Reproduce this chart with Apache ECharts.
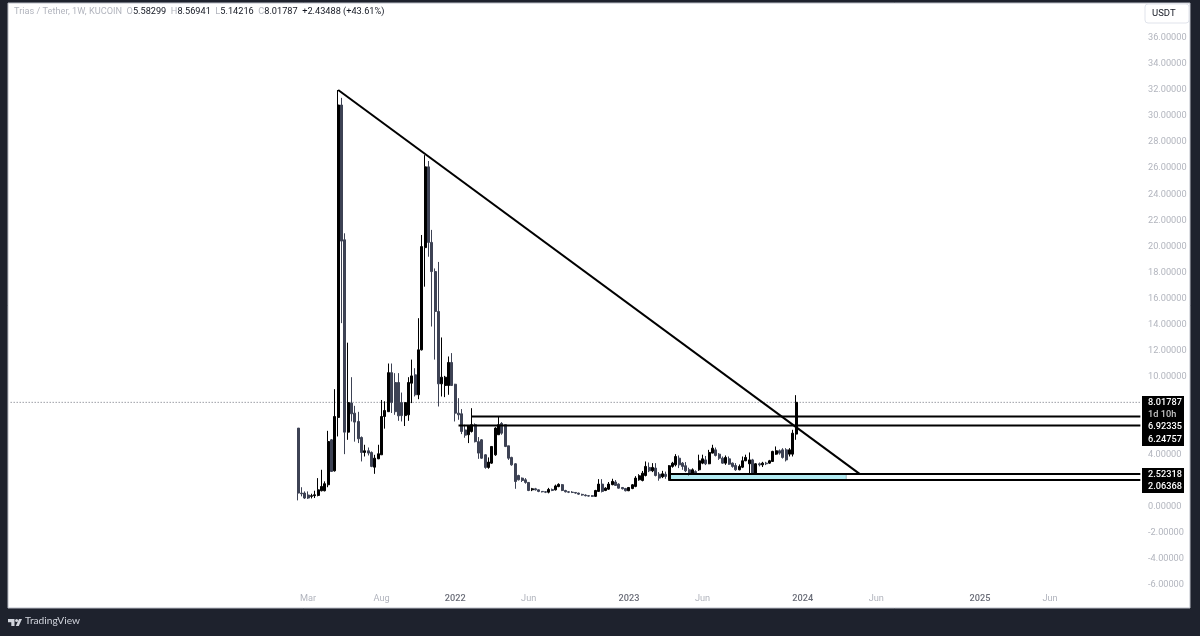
<!DOCTYPE html>
<html lang="en">
<head>
    <meta charset="UTF-8">
    <title>Trias / Tether, 1W, KUCOIN</title>
    <style>
        html, body { margin: 0; padding: 0; background: #1e222d; }
        #main { width: 1200px; height: 636px; }
    </style>
</head>
<body>
    <div id="main"></div>
    <script src="https://cdn.jsdelivr.net/npm/echarts@6/dist/echarts.min.js"></script>
    <script>
        // weekly candles, first one is the week of 2021-02-08
        const candleOpen = [
            6.04, 1.05, 1.05, 0.9, 0.8, 0.85, 0.87, 1.23, 1.23, 1.69,
            5.14, 2.76, 6.86, 30.85, 20.5, 5.73, 7.96, 7.19, 6.55, 5.32,
            4.17, 4.3, 4.17, 3.04, 3.68, 3.99, 6.93, 7.3, 10.3, 9.54,
            9.54, 8, 7, 7.06, 9.49, 10.13, 8.6, 12.05, 19.9, 26.1,
            20.3, 18.06, 15, 9.44, 9.31, 9.31, 11.08, 9.41, 7.19, 7.14,
            5.9, 5.53, 5.78, 6.3, 5, 5.14, 3.99, 3.02, 3.35, 3.99,
            5.53, 6.4, 6.3, 4.68, 3.79, 3.3, 2.4, 2.2, 2.07, 1.87,
            1.3, 1.38, 1.3, 1.18, 1.15, 1.12, 1.33, 1.3, 1.55, 1.7,
            1.25, 1.15, 1.12, 1.1, 1.05, 0.95, 0.9, 0.85, 0.85, 0.8,
            1.18, 1.74, 1.25, 1.35, 1.7, 1.9, 1.74, 1.48, 1.4, 1.23,
            1.4, 1.56, 2.07, 2.02, 2.4, 3.02, 2.76, 2.97, 2.5, 2.3,
            2.5, 2.07, 3.1, 3.22, 3.73, 3.35, 3.15, 2.84, 2.58, 2.7,
            2.84, 3.35, 3.6, 3.3, 4.12, 4.37, 4.04, 3.73, 3.35, 3.68,
            3.35, 3.17, 2.84, 3.04, 3.53, 3.3, 3.6, 2.58, 3.3, 3.22,
            3.35, 3.35, 3.48, 4.04, 4.3, 4.37, 4.37, 4.04, 4.04, 5.58
        ];
        const candleClose = [
            1.05, 1.0, 0.67, 0.67, 0.85, 0.92, 1.3, 1.56, 1.77, 5.01,
            2.71, 6.93, 30.85, 20.4, 5.73, 8.0, 7.14, 6.5, 5.22, 4.17,
            4.3, 4.12, 3.1, 3.73, 4.07, 6.93, 7.39, 10.3, 8.0, 7.3,
            6.98, 7, 8, 9.54, 10.05, 8.6, 12.05, 19.98, 26.1, 20.3,
            18.06, 15, 9.44, 9.95, 9.95, 11.08, 9.31, 7.19, 7.06, 5.78,
            5.5, 6.24, 6.3, 5.0, 4.12, 3.73, 3.02, 3.43, 4.63, 6.04,
            6.3, 5.65, 4.63, 3.73, 3.22, 1.94, 2.07, 2.02, 1.87, 1.25,
            1.38, 1.3, 1.18, 1.15, 1.12, 1.33, 1.25, 1.6, 1.72, 1.25,
            1.15, 1.12, 1.1, 1.05, 0.97, 0.9, 0.85, 0.82, 0.8, 1.25,
            1.74, 1.18, 1.43, 1.74, 1.95, 1.64, 1.43, 1.38, 1.23, 1.48,
            1.69, 2.2, 2.38, 2.58, 3.1, 2.76, 3.02, 2.4, 2.2, 2.53,
            2.33, 3.15, 3.35, 3.86, 3.22, 3.1, 2.76, 2.58, 2.84, 2.6,
            3.53, 3.68, 3.3, 4.17, 4.5, 3.94, 3.73, 3.35, 3.79, 3.27,
            3.1, 2.84, 3.1, 3.53, 3.79, 3.6, 2.58, 3.3, 3.22, 3.35,
            3.3, 3.53, 4.25, 4.3, 4.12, 3.79, 3.6, 4.37, 5.65, 8.01787
        ];
        const candleLow = [
            0.49, 0.8, 0.6, 0.6, 0.64, 0.67, 0.8, 1.18, 1.18, 1.5,
            2.7, 2.7, 5.4, 14.1, 4.04, 5.14, 6.55, 5.0, 4.89, 3.48,
            3.86, 3.94, 3.04, 2.53, 3.66, 3.99, 6.0, 7.3, 7.2, 7.06,
            6.6, 6.55, 6.2, 6.6, 7.96, 8.47, 8.26, 12.0, 16.9, 19.2,
            13.84, 11.3, 7.7, 8.47, 8.42, 8.6, 9.29, 6.55, 6.68, 5.58,
            5.3, 4.89, 5.7, 4.94, 3.68, 3.68, 2.92, 2.92, 3.3, 3.91,
            5.53, 5.53, 4.58, 3.6, 3.15, 1.38, 2.02, 1.9, 1.77, 1.2,
            1.2, 1.25, 1.12, 1.1, 1.05, 1.03, 1.2, 1.25, 1.5, 1.2,
            1.1, 1.05, 1.05, 1.0, 0.92, 0.85, 0.8, 0.78, 0.75, 0.75,
            1.15, 1.1, 1.2, 1.3, 1.65, 1.6, 1.4, 1.33, 1.18, 1.2,
            1.35, 1.5, 2.0, 1.95, 2.33, 2.66, 2.66, 2.33, 2.0, 2.2,
            2.15, 2.0, 3.0, 3.1, 2.97, 2.84, 2.66, 2.4, 2.5, 2.5,
            2.76, 3.27, 3.2, 3.27, 4.1, 3.86, 3.6, 3.3, 3.22, 3.22,
            3.0, 2.76, 2.8, 2.97, 3.5, 2.58, 2.55, 2.55, 3.1, 3.05,
            3.2, 3.3, 3.45, 3.99, 4.0, 3.7, 3.48, 3.86, 3.86, 5.14216
        ];
        const candleHigh = [
            6.04, 1.5, 1.18, 1.18, 1.0, 1.23, 2.2, 2.84, 1.95, 5.83,
            5.2, 9.03, 32, 31.4, 21, 12.6, 9.95, 7.75, 7.29, 5.4,
            4.76, 4.55, 4.25, 3.99, 4.76, 8.2, 8.1, 11, 11, 10.26,
            10.26, 8.77, 8, 9.95, 11.3, 10.64, 14.48, 20.87, 27, 26.55,
            21.26, 18.3, 18.8, 13, 10.05, 11.54, 11.8, 9.44, 8.34, 7.5,
            6.3, 6.24, 7.57, 6.4, 5.35, 5.2, 4.04, 3.79, 4.63, 6.11,
            6.93, 6.5, 6.3, 4.68, 3.84, 3.35, 2.46, 2.25, 2.2, 1.9,
            1.45, 1.45, 1.33, 1.2, 1.2, 1.45, 1.4, 1.7, 1.8, 1.75,
            1.3, 1.2, 1.2, 1.12, 1.08, 1.0, 0.95, 0.9, 0.9, 1.3,
            2.12, 2.12, 1.5, 1.9, 2.15, 2.05, 1.8, 1.52, 1.45, 1.52,
            1.75, 2.35, 2.5, 2.75, 3.48, 3.4, 3.35, 3.35, 2.66, 2.76,
            2.7, 3.2, 3.45, 4.04, 3.94, 3.43, 3.43, 3.0, 2.95, 2.8,
            4.0, 4.0, 3.9, 4.37, 4.76, 4.55, 4.12, 3.86, 3.94, 3.86,
            3.4, 3.35, 3.25, 3.86, 4.0, 4.17, 3.68, 3.35, 3.4, 3.45,
            3.45, 3.6, 4.3, 4.63, 4.4, 4.5, 4.5, 4.5, 5.91, 8.56941
        ];

        const firstCandleWeek = '2021-02-08';
        const weeksBeforeFirst = 86;
        const weekCount = 339;
        const tickLabels = {
            '2021-03-01': 'Mar', '2021-08-02': 'Aug', '2022-01-03': '2022', '2022-06-06': 'Jun',
            '2023-01-02': '2023', '2023-06-05': 'Jun', '2024-01-01': '2024', '2024-06-03': 'Jun',
            '2025-01-06': '2025', '2025-06-02': 'Jun'
        };

        // drawings: trend line, the two zones, the box between them
        const trendStart = ['2021-05-03', 32];
        const trendEnd = ['2024-04-29', 2.52318];
        const lastPrice = 8.01787;
        const upperZone = [6.92335, 6.24757];
        const upperZoneStart = ['2022-02-07', '2022-01-10'];
        const lowerZone = [2.52318, 2.06368];
        const lowerZoneStart = '2023-03-27';
        const boxEnd = '2024-04-01';

        // right hand price tags, shifted by tradingview so they do not overlap
        const priceTags = [
            ['8.01787', 402.5, '#ffffff'],
            ['1d 10h', 414.5, '#c4c4c4'],
            ['6.92335', 427, '#ffffff'],
            ['6.24757', 439.5, '#ffffff'],
            ['2.52318', 474.5, '#ffffff'],
            ['2.06368', 487, '#ffffff']
        ];

        const weekMs = 7 * 24 * 3600 * 1000;
        function weekAt(i) {
            const t = Date.parse(firstCandleWeek + 'T00:00:00Z') + (i - weeksBeforeFirst) * weekMs;
            return new Date(t).toISOString().slice(0, 10);
        }
        const weeks = [];
        for (let i = 0; i < weekCount; i++) weeks.push(weekAt(i));
        const lastWeek = weeks[weeks.length - 1];

        const candles = candleOpen.map(function (o, i) {
            return [weekAt(weeksBeforeFirst + i), o, candleClose[i], candleLow[i], candleHigh[i]];
        });

        function segment(points, width, extra) {
            return Object.assign({
                type: 'line',
                data: points,
                symbol: 'none',
                silent: true,
                z: 5,
                lineStyle: { color: '#000000', width: width }
            }, extra || {});
        }

        const font = 'Roboto';
        const fontSize = 9.2;
        const greyText = '#b2b5be';

        const graphics = [
            { type: 'rect', z: -10, shape: { x: 8, y: 3, width: 1182, height: 605 },
              style: { fill: '#ffffff', stroke: '#b9bcc6', lineWidth: 1 } },
            { type: 'text', x: 14, y: 7, z: 100, style: {
                font: fontSize + 'px ' + font,
                text: '{g|Trias / Tether, 1W, KUCOIN}  {g|O}{d|5.58299}  {g|H}{d|8.56941}  {g|L}{d|5.14216}  {g|C}{d|8.01787}  {d|+2.43488 (+43.61%)}',
                rich: {
                    g: { fill: greyText, font: fontSize + 'px ' + font },
                    d: { fill: '#131722', font: fontSize + 'px ' + font }
                }
            } },
            { type: 'rect', z: 100, shape: { x: 1145, y: 4, width: 44, height: 19, r: 3 },
              style: { fill: '#ffffff', stroke: '#e0e3eb', lineWidth: 1 } },
            { type: 'text', x: 1152, y: 9, z: 101, style: { text: 'USDT', fill: '#131722', font: '9.5px ' + font } },
            { type: 'rect', z: 100, shape: { x: 1142, y: 396, width: 42, height: 50 }, style: { fill: '#000000' } },
            { type: 'rect', z: 100, shape: { x: 1142, y: 468, width: 42, height: 25 }, style: { fill: '#000000' } },
            // TradingView logo
            { type: 'polygon', z: 100, shape: { points: [[8, 619], [14.5, 619], [14.5, 626], [11.3, 626], [11.3, 622.3], [8, 622.3]] },
              style: { fill: '#d1d4dc' } },
            { type: 'polygon', z: 100, shape: { points: [[19, 619], [22, 619], [18.8, 626], [15.8, 626]] },
              style: { fill: '#d1d4dc' } },
            { type: 'circle', z: 100, shape: { cx: 16.6, cy: 620.4, r: 1.5 }, style: { fill: '#d1d4dc' } },
            { type: 'text', x: 25, y: 616, z: 100, style: { text: 'TradingView', fill: '#d1d4dc', font: '10.2px Lato' } }
        ];
        priceTags.forEach(function (tag) {
            graphics.push({
                type: 'text', x: 1148, y: tag[1], z: 101,
                style: { text: tag[0], fill: tag[2], font: '500 ' + fontSize + 'px ' + font, verticalAlign: 'middle' }
            });
        });

        const myChart = echarts.init(document.getElementById('main'));
        myChart.setOption({
            animation: false,
            backgroundColor: '#1e222d',
            textStyle: { fontFamily: font },
            grid: { left: 9, top: 11.9, width: 1133, height: 573 },
            xAxis: {
                type: 'category',
                data: weeks,
                boundaryGap: true,
                axisLine: { show: false },
                axisTick: { show: false },
                splitLine: { show: false },
                axisLabel: {
                    margin: 9,
                    interval: function (index, value) { return tickLabels[value] !== undefined; },
                    formatter: function (value) {
                        const t = tickLabels[value];
                        return /^20/.test(t) ? '{y|' + t + '}' : t;
                    },
                    color: greyText,
                    fontSize: fontSize,
                    rich: { y: { color: '#6a6d78', fontSize: fontSize, fontWeight: 500 } }
                }
            },
            yAxis: {
                type: 'value',
                position: 'right',
                min: -6,
                max: 38,
                interval: 2,
                axisLine: { show: false },
                axisTick: { show: false },
                splitLine: { show: false },
                axisLabel: {
                    showMaxLabel: false,
                    margin: 6,
                    padding: [3, 0, 0, 0],
                    color: greyText,
                    fontSize: fontSize,
                    formatter: function (v) { return v.toFixed(5); }
                }
            },
            series: [
                segment([[weeks[0], lastPrice], [lastWeek, lastPrice]], 1, {
                    z: 1,
                    lineStyle: { color: '#6a6d78', width: 1, type: [1, 2] },
                    markArea: {
                        silent: true,
                        itemStyle: { color: '#b2ebf2', borderColor: '#9fb8bd', borderWidth: 1 },
                        data: [[
                            { xAxis: lowerZoneStart, yAxis: lowerZone[0] },
                            { xAxis: boxEnd, yAxis: lowerZone[1] }
                        ]]
                    }
                }),
                {
                    type: 'candlestick',
                    data: candles,
                    encode: { x: 0, y: [1, 2, 3, 4] },
                    barWidth: 2.5,
                    z: 3,
                    itemStyle: {
                        color: '#000000',
                        borderColor: '#000000',
                        color0: '#3d4254',
                        borderColor0: '#3d4254',
                        borderWidth: 1
                    }
                },
                segment([trendStart, trendEnd], 2),
                segment([[upperZoneStart[0], upperZone[0]], [lastWeek, upperZone[0]]], 2),
                segment([[upperZoneStart[1], upperZone[1]], [lastWeek, upperZone[1]]], 2),
                segment([[lowerZoneStart, lowerZone[0]], [lastWeek, lowerZone[0]]], 2),
                segment([[lowerZoneStart, lowerZone[1]], [lastWeek, lowerZone[1]]], 2)
            ],
            graphic: graphics
        });
    </script>
</body>
</html>
